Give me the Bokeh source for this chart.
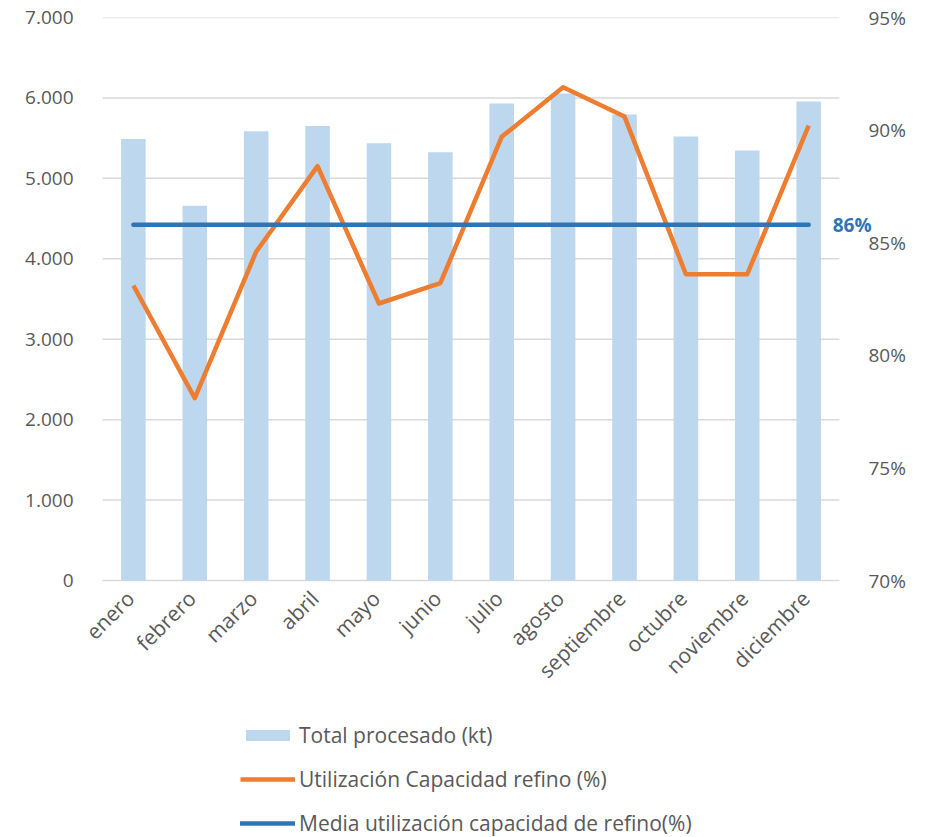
from bokeh.plotting import figure
from bokeh.models import (Range1d, LinearAxis, FixedTicker, Legend, LegendItem,
                          Label, ColumnDataSource)
from bokeh.core.properties import value
from bokeh.embed import file_html
from bokeh.resources import INLINE
import math

meses = ["enero", "febrero", "marzo", "abril", "mayo", "junio", "julio", "agosto",
         "septiembre", "octubre", "noviembre", "diciembre"]
total_procesado = [5490, 4660, 5585, 5650, 5435, 5325, 5930, 6055, 5795, 5520, 5345, 5955]
utilizacion = [83.1, 78.1, 84.6, 88.4, 82.3, 83.2, 89.7, 91.9, 90.6, 83.6, 83.6, 90.2]
media_utilizacion = 85.8
media_label = "86%"

left_ticks = [0, 1000, 2000, 3000, 4000, 5000, 6000, 7000]
left_labels = ["0", "1.000", "2.000", "3.000", "4.000", "5.000", "6.000", "7.000"]
right_ticks = [70, 75, 80, 85, 90, 95]
right_labels = ["70%", "75%", "80%", "85%", "90%", "95%"]

FONT = "Open Sans"
GRAY = "#595959"
GRID = "#D9D9D9"
BAR = "#BDD7EE"
ORANGE = "#ED7D31"
BLUE = "#2E75B6"

n = len(meses)
pos = list(range(n))
x_start, x_end = -0.5, n - 0.5
extra_left = 0.28           # room inside the frame for the first rotated label
extra_right = 0.67          # room inside the frame for the mean label

# vertical layout: plotting area 563 px tall, 257 px below it for labels and legend
plot_px, below_px = 563, 257
l_lo, l_hi = left_ticks[0], left_ticks[-1]
r_lo, r_hi = right_ticks[0], right_ticks[-1]
left_min = l_lo - (l_hi - l_lo) * below_px / plot_px
right_min = r_lo - (r_hi - r_lo) * below_px / plot_px

p = figure(frame_width=795, frame_height=plot_px + below_px,
           x_range=Range1d(x_start - extra_left, x_end + extra_right),
           y_range=Range1d(left_min, l_hi),
           output_backend="svg", toolbar_location=None, x_axis_location=None,
           min_border_left=85, min_border_right=0, min_border_top=17, min_border_bottom=0)
p.extra_y_ranges = {"right": Range1d(right_min, r_hi)}
p.outline_line_color = None
p.background_fill_color = "white"
p.xgrid.grid_line_color = None
p.ygrid.grid_line_color = None

src = ColumnDataSource(dict(pos=pos, mes=meses, total=total_procesado, util=utilizacion,
                            media=[media_utilizacion] * n, base=[l_lo] * n))

# gridlines limited to the category span
p.segment(x0=[x_start] * len(left_ticks), x1=[x_end] * len(left_ticks),
          y0=left_ticks, y1=left_ticks, line_color=GRID, line_width=1.5)

bars = p.vbar(x="pos", top="total", bottom="base", width=0.4, source=src,
              fill_color=BAR, line_color=None)
util_line = p.line(x="pos", y="util", source=src, line_color=ORANGE, line_width=4.5,
                   line_join="round", y_range_name="right")
media_line = p.line(x="pos", y="media", source=src, line_color=BLUE, line_width=4.5,
                    line_cap="round", y_range_name="right")

# category labels (rotated 45 degrees) under the bars
p.text(x="pos", y="base", text="mes", source=src, angle=math.pi / 4,
       text_align="right", text_baseline="middle", x_offset=-3, y_offset=14,
       text_font=value(FONT), text_font_size="21px", text_color=GRAY)

# y axes
la = p.yaxis[0]
la.ticker = FixedTicker(ticks=left_ticks)
la.major_label_overrides = dict(zip(left_ticks, left_labels))
ra = LinearAxis(y_range_name="right", ticker=FixedTicker(ticks=right_ticks),
                major_label_overrides=dict(zip(right_ticks, right_labels)))
p.add_layout(ra, "right")
for ax in (la, ra):
    ax.axis_line_color = None
    ax.major_tick_line_color = None
    ax.minor_tick_line_color = None
    ax.major_label_text_font = FONT
    ax.major_label_text_font_size = "19px"
    ax.major_label_text_color = GRAY
la.major_label_standoff = 6
ra.major_label_standoff = -18

p.add_layout(Label(x=pos[-1], y=media_utilizacion, y_range_name="right",
                   text=media_label, x_offset=24, text_baseline="middle",
                   text_font=FONT, text_font_size="19px", text_font_style="bold",
                   text_color=BLUE))

legend = Legend(items=[
    LegendItem(label="Total procesado (kt)", renderers=[bars]),
    LegendItem(label="Utilización Capacidad refino (%)", renderers=[util_line]),
    LegendItem(label="Media utilización capacidad de refino(%)", renderers=[media_line]),
], orientation="vertical", location=(155, 0))
legend.border_line_color = None
legend.background_fill_alpha = 0
legend.label_text_font = FONT
legend.label_text_font_size = "21px"
legend.label_text_color = GRAY
legend.glyph_width = 55
legend.glyph_height = 14
legend.label_height = 25
legend.label_standoff = 4
legend.spacing = 16
legend.margin = 0
legend.padding = 0
p.add_layout(legend, "center")

open("out.html", "w").write(file_html(p, INLINE))
